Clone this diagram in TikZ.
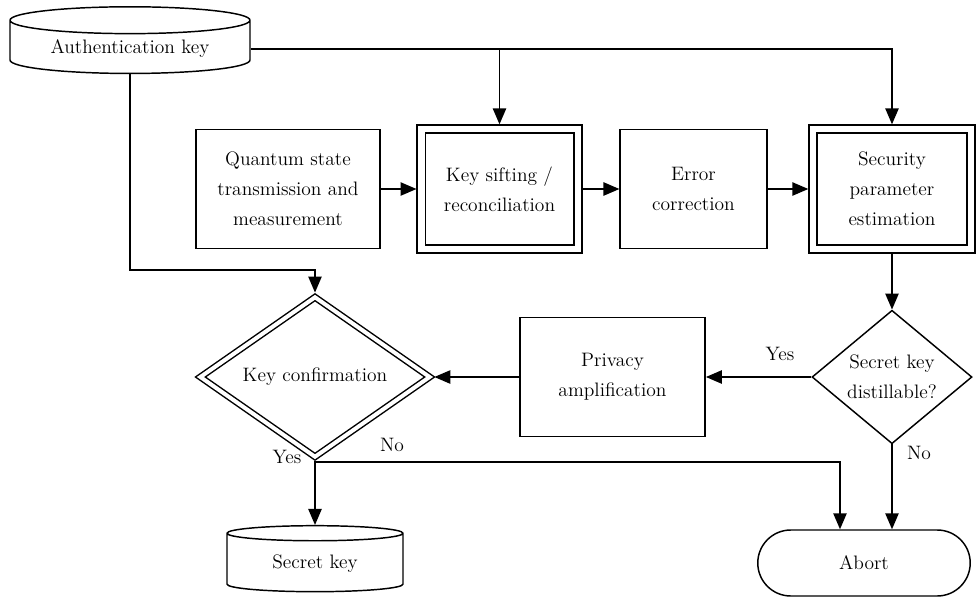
\documentclass[tikz,border=0pt]{standalone}
\usetikzlibrary{shapes.geometric,shapes.misc,arrows.meta}

\tikzset{every picture/.style={line width=1.1pt}}
\tikzset{
  lbl/.style={font=\fontsize{14.6}{22.5}\selectfont},
  proc/.style={draw, rectangle, align=center, inner sep=0pt, lbl},
  dproc/.style={proc, double, double distance=5pt, outer sep=3.5pt},
  decide/.style={draw, diamond, align=center, inner sep=0pt, lbl},
  ddecide/.style={decide, double, double distance=3pt, outer sep=2.5pt},
  store/.style={draw, cylinder, shape border rotate=90, aspect=0.16, lbl},
  term/.style={draw, rounded rectangle, lbl},
  flow/.style={-{Triangle[length=12pt,width=10pt]}},
}

\begin{document}
\begin{tikzpicture}[x=0.75pt,y=0.75pt,yscale=-1,xscale=1]
\useasboundingbox (0,0) rectangle (976,597);

%Shape: Can
\node[store, minimum width=180pt, minimum height=50pt] (authkey) at (130,49) {Authentication key};
%Shape: Rectangle
\node[proc, minimum width=138pt, minimum height=89pt] (quantum) at (288,189) {Quantum state\\transmission and\\measurement};
%Shape: Double Rectangle
\node[dproc, minimum width=117.5pt, minimum height=90pt] (sifting) at (499.5,189) {Key sifting /\\reconciliation};
%Shape: Rectangle
\node[proc, minimum width=110pt, minimum height=89pt] (errcorr) at (693.5,189) {Error\\correction};
%Shape: Double Rectangle
\node[dproc, minimum width=118.5pt, minimum height=90pt] (paramest) at (892,189) {Security\\parameter\\estimation};
%Shape: Diamond
\node[decide, minimum width=120pt, minimum height=88.5pt] (distill) at (892,377) {Secret key\\distillable?};
%Shape: Rectangle
\node[proc, minimum width=139pt, minimum height=89pt] (privacy) at (612.5,377) {Privacy\\amplification};
%Shape: Double Diamond
\node[ddecide, minimum width=174pt, minimum height=88pt] (keyconf) at (315,377) {Key confirmation};
%Shape: Can
\node[store, minimum width=132pt, minimum height=49.5pt] (seckey) at (315,564) {Secret key};
%Shape: Rounded Rectangle
\node[term, minimum width=166pt, minimum height=49.5pt] (abort) at (864,563) {Abort};

\coordinate (authbend) at (315,270);
\coordinate (noturn) at (840,462);

%Straight Lines
\draw[flow] (authkey.east) -| (paramest.north);
\draw[flow] (authkey.east -| sifting.north) -- (sifting.north);
\draw[flow] (authkey.south) |- (authbend) -- (keyconf.north);
\draw[flow] (quantum.east) -- (sifting.west);
\draw[flow] (sifting.east) -- (errcorr.west);
\draw[flow] (errcorr.east) -- (paramest.west);
\draw[flow] (paramest.south) -- (distill.north);
\draw[flow] (distill.west) -- (privacy.east);
\draw[flow] (privacy.west) -- (keyconf.east);
\draw[flow] (keyconf.south) -- (seckey.north);
\draw[flow] (keyconf.south |- noturn) -- (noturn) -- (noturn |- abort.north);
\draw[flow] (distill.south) -- (distill.south |- abort.north);

% Text Node
\node[lbl] (yesdist) at (780,354) {Yes};
% Text Node
\node[lbl] (nokc) at (392,445) {No};
% Text Node
\node[lbl] (yeskc) at (287,457) {Yes};
% Text Node
\node[lbl] (nodist) at (919,453) {No};

\end{tikzpicture}
\end{document}
